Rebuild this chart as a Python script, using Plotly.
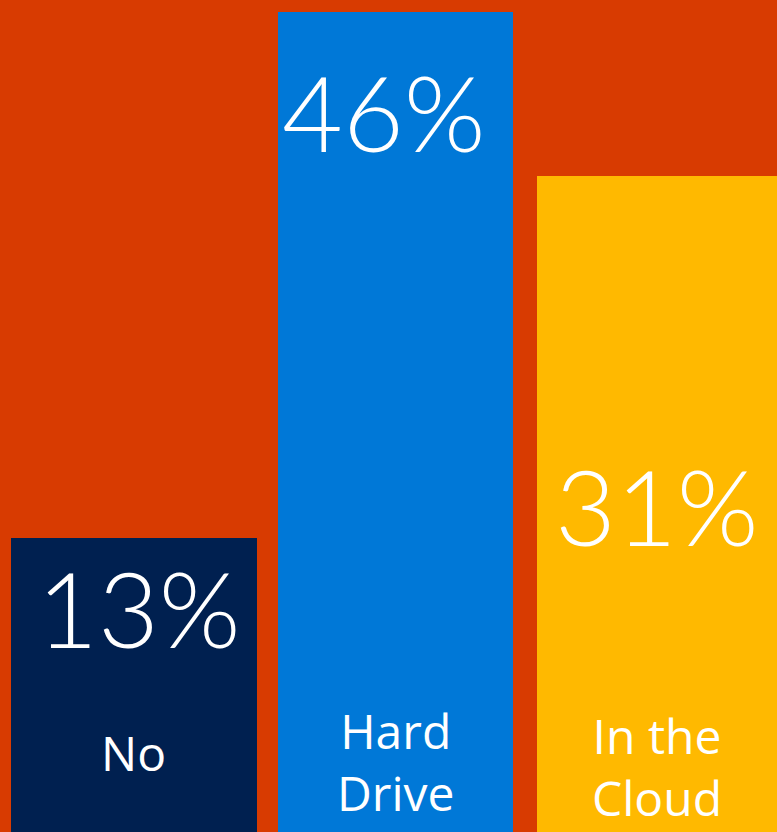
import plotly.graph_objects as go

# Survey answers and their shares (percent)
categories = ["No", "Hard<br>Drive", "In the<br>Cloud"]
shares = [13, 46, 31]
bar_colors = ["#002050", "#0078D7", "#FFB900"]
bar_widths = [0.94, 0.895, 0.92]

# placement of the value text and of the label block (px)
value_text_px = [607, 111, 505]
value_text_dx = [5, -12, 0]
label_text_px = [752, 761, 766]

W, H = 777, 832
x_idx = list(range(len(categories)))

fig = go.Figure(
    go.Bar(
        x=x_idx,
        y=shares,
        width=bar_widths,
        marker=dict(color=bar_colors, line=dict(width=0)),
        hoverinfo="skip",
    )
)

annotations = []
for i, (cat, val) in enumerate(zip(categories, shares)):
    annotations.append(dict(
        x=i, xref="x", y=1 - value_text_px[i] / H, yref="paper",
        xshift=value_text_dx[i],
        text=f"{val}%", showarrow=False, xanchor="center", yanchor="middle",
        font=dict(family="Lato, Open Sans, sans-serif", size=105, color="white", weight=300),
    ))
    annotations.append(dict(
        x=i, xref="x", y=1 - label_text_px[i] / H, yref="paper",
        text=cat, showarrow=False, xanchor="center", yanchor="middle",
        font=dict(family="Open Sans, sans-serif", size=48, color="white"),
    ))

fig.update_layout(
    width=W, height=H,
    margin=dict(l=0, r=0, t=0, b=0),
    paper_bgcolor="#D83B01",
    plot_bgcolor="#D83B01",
    showlegend=False,
    bargap=0,
    xaxis=dict(range=[-0.5124, 2.4589], visible=False, fixedrange=True),
    yaxis=dict(type="log", range=[0.8082, 1.6748], visible=False, fixedrange=True),
    annotations=annotations,
)

fig.write_html("out.html", config={"displayModeBar": False})
